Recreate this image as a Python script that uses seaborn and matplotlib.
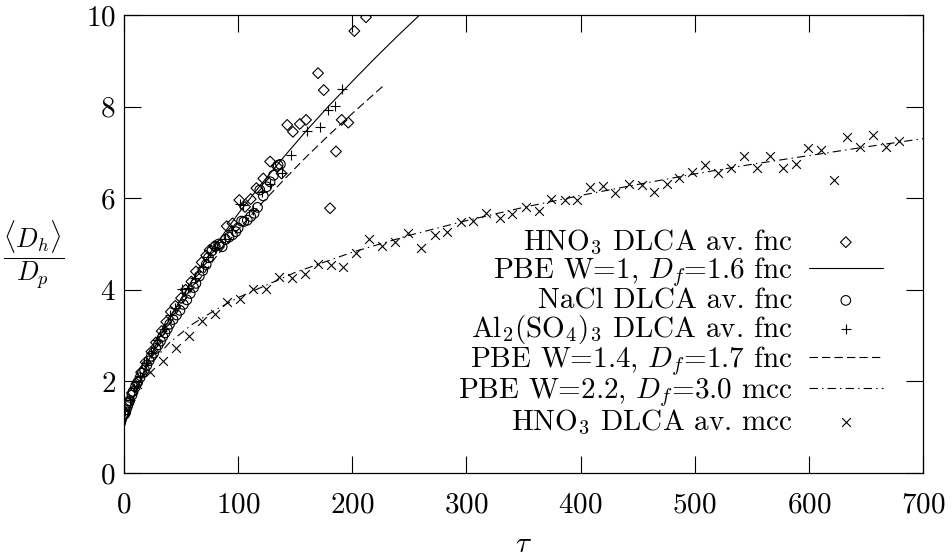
import matplotlib
matplotlib.use("Agg")
import matplotlib.pyplot as plt
import seaborn as sns

# ---- fnc regime: population-balance model curves ----
pbe_w1_tau = [0, 5, 10, 20, 30, 40, 50, 60, 80, 100, 120, 140, 160, 180, 200, 220, 240, 259]
pbe_w1_size = [1.00, 1.42, 1.77, 2.38, 2.90, 3.37, 3.81, 4.22, 4.97, 5.66, 6.30, 6.90,
               7.48, 8.03, 8.55, 9.06, 9.55, 10.0]

pbe_w14_tau = [0, 5, 10, 20, 30, 40, 50, 60, 80, 100, 120, 140, 160, 180, 200, 227]
pbe_w14_size = [1.00, 1.42, 1.76, 2.33, 2.82, 3.25, 3.65, 4.02, 4.70, 5.31, 5.87, 6.40,
                6.91, 7.39, 7.85, 8.45]

# ---- mcc regime: population-balance model curve ----
pbe_w22_tau = [0, 10, 20, 40, 60, 80, 100, 150, 200, 250, 300, 350, 400, 450, 500,
               550, 600, 650, 700]
pbe_w22_size = [1.00, 1.87, 2.29, 2.85, 3.25, 3.56, 3.83, 4.38, 4.82, 5.19, 5.51, 5.80,
                6.06, 6.30, 6.53, 6.74, 6.93, 7.12, 7.30]

# ---- DLCA averages, fnc ----
hno3_fnc_tau = [1, 4, 7, 11, 15, 19, 24, 28, 33, 37, 41, 45, 50, 54, 59, 63, 68, 72, 75,
                79, 83.5, 90, 95, 101, 106, 111, 116, 122, 128, 134, 138, 143, 148, 154,
                159.5, 170, 175, 180.5, 185.7, 190.7, 196.5, 201.8, 212]
hno3_fnc_size = [1.30, 1.55, 1.75, 1.95, 2.20, 2.42, 2.65, 2.85, 3.10, 3.30, 3.52, 3.65,
                 3.82, 4.00, 4.18, 4.40, 4.60, 4.75, 4.87, 4.95, 4.98, 5.39, 5.45, 5.96,
                 5.81, 5.98, 6.22, 6.43, 6.80, 6.69, 6.54, 7.60, 7.45, 7.62, 7.71, 8.73,
                 8.36, 5.78, 7.02, 7.71, 7.65, 9.65, 9.95]

nacl_fnc_tau = [0, 1, 2, 3, 4, 5, 7, 8, 10, 12, 14, 16, 18, 20, 22, 24, 26, 28, 30, 32,
                34, 36, 38, 40, 43, 46, 49, 52, 55, 58, 61, 63, 66, 69, 72, 74, 77, 80,
                83, 86, 89, 92, 95, 98, 100, 103, 105, 108, 111, 114, 117, 119, 122, 125,
                128, 131, 135, 137]
nacl_fnc_size = [1.27, 1.30, 1.38, 1.45, 1.52, 1.58, 1.70, 1.78, 1.88, 1.98, 2.08, 2.18,
                 2.25, 2.35, 2.45, 2.55, 2.62, 2.72, 2.80, 2.88, 2.98, 3.06, 3.15, 3.25,
                 3.35, 3.45, 3.55, 3.68, 3.78, 3.92, 4.05, 4.14, 4.30, 4.42, 4.55, 4.70,
                 4.85, 4.95, 5.00, 4.94, 5.10, 5.15, 5.20, 5.27, 5.35, 5.50, 5.49, 5.52,
                 5.60, 5.67, 5.80, 6.18, 6.05, 6.25, 6.36, 6.50, 6.72, 6.74]

al2so43_fnc_tau = [1, 5, 9, 14, 19, 24, 29, 35, 40, 45, 50.5, 56, 62, 69.5, 74, 79.7,
                   88.5, 95, 101.6, 104.5, 113.3, 120.6, 128, 138.2, 146.3, 160, 171.7,
                   179, 184.9, 190.7]
al2so43_fnc_size = [1.35, 1.60, 1.85, 2.12, 2.40, 2.62, 2.90, 3.15, 3.45, 3.60, 4.01,
                    4.05, 4.25, 4.50, 4.72, 4.91, 5.10, 5.30, 5.87, 5.85, 5.74, 6.13,
                    6.30, 6.54, 6.94, 7.47, 7.56, 7.93, 8.01, 8.38]

# ---- DLCA average, mcc ----
hno3_mcc_tau = [11, 22.5, 34, 45.5, 57, 68.3, 79.6, 90.5, 101.6, 113.3, 124.2, 136, 146.8,
                158.6, 170, 181, 192.2, 203.2, 214.5, 226, 237, 249, 260.3, 272.3, 283.3,
                295.3, 305.5, 317.5, 329.5, 339.8, 351.8, 363.8, 374.1, 386, 397, 408.4,
                419.5, 430.5, 442, 453.5, 464.5, 476, 486.2, 497.3, 509, 520, 531.4, 543,
                554.3, 566, 577, 588.5, 599.5, 610.6, 622.3, 633.2, 644.8, 655.9, 667.3,
                679]
hno3_mcc_size = [1.95, 2.20, 2.45, 2.73, 2.99, 3.31, 3.48, 3.73, 3.79, 4.01, 4.02, 4.27,
                 4.26, 4.35, 4.56, 4.54, 4.50, 4.80, 5.11, 4.96, 5.05, 5.25, 4.91, 5.20,
                 5.27, 5.47, 5.51, 5.67, 5.57, 5.65, 5.80, 5.73, 5.98, 5.96, 5.95, 6.25,
                 6.26, 6.12, 6.31, 6.29, 6.14, 6.32, 6.45, 6.58, 6.72, 6.54, 6.65, 6.93,
                 6.65, 6.92, 6.67, 6.75, 7.09, 7.05, 6.40, 7.34, 7.11, 7.38, 7.11, 7.25]

x_ticks = [0, 100, 200, 300, 400, 500, 600, 700]
y_ticks = [0, 2, 4, 6, 8, 10]

lab_hno3_fnc = r"HNO$_3$ DLCA av. fnc"
lab_pbe_w1 = r"PBE W=1, $D_f$=1.6 fnc"
lab_nacl = r"NaCl DLCA av. fnc"
lab_al = r"Al$_2$(SO$_4$)$_3$ DLCA av. fnc"
lab_pbe_w14 = r"PBE W=1.4, $D_f$=1.7 fnc"
lab_pbe_w22 = r"PBE W=2.2, $D_f$=3.0 mcc"
lab_hno3_mcc = r"HNO$_3$ DLCA av. mcc"

fs = 21
sns.set_theme(style="ticks")
plt.rcParams.update({
    "font.family": ["cmr10", "DejaVu Serif"],
    "mathtext.fontset": "cm",
    "axes.formatter.use_mathtext": True,
    "axes.unicode_minus": False,
    "font.size": fs,
    "axes.labelsize": fs,
    "xtick.labelsize": fs,
    "ytick.labelsize": fs,
    "legend.fontsize": fs,
    "axes.linewidth": 0.9,
    "axes.edgecolor": "black",
    "text.color": "black",
    "axes.labelcolor": "black",
    "xtick.color": "black",
    "ytick.color": "black",
    "lines.scale_dashes": False,
})

fig = plt.figure(figsize=(9.53, 5.59), dpi=100)
ax = fig.add_axes([124 / 953, 1 - 473 / 559, (923 - 124) / 953, (473 - 15) / 559])

lw = 0.8
sns.scatterplot(x=hno3_fnc_tau, y=hno3_fnc_size, ax=ax, marker="D", s=30,
                color="black", facecolor="none", edgecolor="black", linewidth=lw,
                label=lab_hno3_fnc)
sns.lineplot(x=pbe_w1_tau, y=pbe_w1_size, ax=ax, color="black", lw=lw,
             sort=False, estimator=None, label=lab_pbe_w1)
sns.scatterplot(x=nacl_fnc_tau, y=nacl_fnc_size, ax=ax, marker="o", s=48,
                color="black", facecolor="none", edgecolor="black", linewidth=lw,
                label=lab_nacl)
sns.scatterplot(x=al2so43_fnc_tau, y=al2so43_fnc_size, ax=ax, marker="+", s=60,
                color="black", linewidth=lw, label=lab_al)
sns.lineplot(x=pbe_w14_tau, y=pbe_w14_size, ax=ax, color="black", lw=lw,
             linestyle=(0, (6, 3)), sort=False, estimator=None, label=lab_pbe_w14)
sns.lineplot(x=pbe_w22_tau, y=pbe_w22_size, ax=ax, color="black", lw=lw,
             linestyle=(0, (6, 3, 1, 3)), sort=False, estimator=None, label=lab_pbe_w22)
sns.scatterplot(x=hno3_mcc_tau, y=hno3_mcc_size, ax=ax, marker="x", s=40,
                color="black", linewidth=lw, label=lab_hno3_mcc)

ax.set_xlim(x_ticks[0], x_ticks[-1])
ax.set_ylim(y_ticks[0], y_ticks[-1])
ax.set_xticks(x_ticks)
ax.set_yticks(y_ticks)
ax.tick_params(direction="in", length=12, width=0.8, top=True, right=True)
ax.tick_params(axis="x", pad=14)
ax.tick_params(axis="y", pad=6)
for side in ax.spines.values():
    side.set_visible(True)
    side.set_color("black")

ax.set_xlabel(r"$\tau$", va="center")
ax.xaxis.set_label_coords(0.5, -0.157)
ax.set_ylabel(r"$\dfrac{\langle D_h\rangle}{D_p}$", rotation=0, va="center", ha="center",
              fontsize=19)
ax.yaxis.set_label_coords(-0.113, 0.476)

handles, labels = ax.get_legend_handles_labels()
by_label = dict(zip(labels, handles))
order = [lab_hno3_fnc, lab_pbe_w1, lab_nacl, lab_al, lab_pbe_w14, lab_pbe_w22, lab_hno3_mcc]
ax.legend([by_label[k] for k in order], order, loc="lower right",
          bbox_to_anchor=((883 - 124) / 799, (473 - 437) / 458),
          markerfirst=False, frameon=False, handlelength=2.55, handletextpad=0.55,
          labelspacing=-0.05, borderpad=0, borderaxespad=0, scatterpoints=1)

fig.savefig("out.png", dpi=100, facecolor="white")
